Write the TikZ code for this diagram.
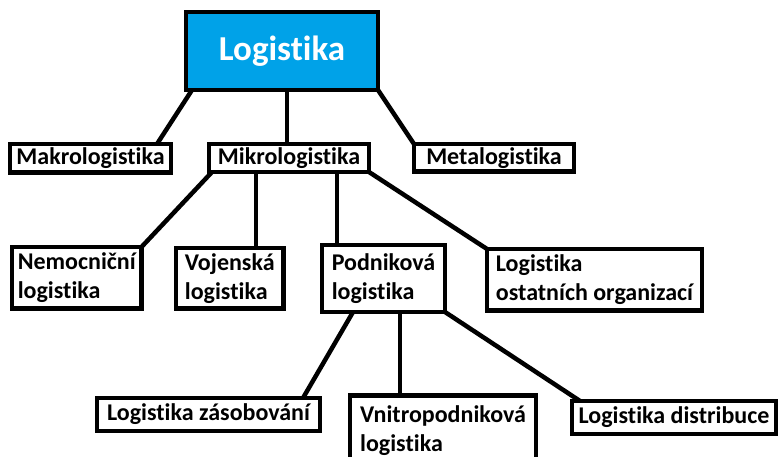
\documentclass[tikz,border=0pt]{standalone}
\usepackage{fontspec}
\setmainfont{Carlito}[Ligatures=NoCommon]
\usetikzlibrary{calc}
\definecolor{titleblue}{HTML}{00A2E8}
\begin{document}
\begin{tikzpicture}[x=1pt,y=-1pt,
  box/.style={draw=black, line width=4.5pt, fill=white, outer sep=0pt,
    inner xsep=4pt, inner ysep=0pt, anchor=north west, align=left,
    font=\bfseries\fontsize{24}{29}\selectfont},
  link/.style={line width=4.5pt}]
\fill[white] (0,0) rectangle (779,457);
\useasboundingbox (0,0) rectangle (779,457);

% root
\node[box, fill=titleblue, text=white, align=center, minimum width=192pt,
  minimum height=78pt, font=\bfseries\fontsize{35}{42}\selectfont] (log) at (186,12) {Logistika};

% second level
\node[box, minimum width=161pt, minimum height=28.5pt] (makro) at (10,144) {Makrologistika};
\node[box, minimum width=160pt, minimum height=28pt] (mikro) at (209,144) {Mikrologistika};
\node[box, minimum width=160pt, minimum height=27.5pt] (meta) at (414,144) {Metalogistika};

% third level
\node[box, minimum width=129.5pt, minimum height=61.5pt] (nemo) at (12,247) {Nemocniční\\logistika};
\node[box, minimum width=107.5pt, minimum height=60.5pt] (voj) at (176,248) {Vojenská\\logistika};
\node[box, minimum width=123pt, minimum height=67pt] (podnik) at (322,245) {Podniková\\logistika};
\node[box, minimum width=215pt, minimum height=61.5pt] (ostat) at (487,249) {Logistika\\ostatních organizací};

% fourth level
\node[box, minimum width=223pt, minimum height=33pt] (zas) at (97,398) {Logistika zásobování};
\node[box, minimum width=186pt, inner ysep=10pt, text depth=30pt] (vnitro) at (350,395.5) {Vnitropodniková\\logistika};
\node[box, minimum width=204pt, minimum height=33pt] (dist) at (572,401) {Logistika distribuce};

% connectors
\draw[link] ($(log.south west)+(6,0)$) -- ($(makro.north east)+(-14,0)$);
\coordinate (c1) at ($(log.south)+(5,0)$);
\draw[link] (c1) -- (c1 |- mikro.north);
\draw[link] (log.south east) -- (meta.north west);

\draw[link] ($(mikro.south west)+(3,0)$) -- (nemo.north east);
\coordinate (c2) at ($(mikro.south west)+(47,0)$);
\draw[link] (c2) -- (c2 |- voj.north);
\coordinate (c3) at ($(podnik.north west)+(15,0)$);
\draw[link] (c3) -- (c3 |- mikro.south);
\draw[link] (mikro.south east) -- (ostat.north west);

\draw[link] ($(podnik.south west)+(31,0)$) -- ($(zas.north east)+(-17,0)$);
\coordinate (c4) at ($(vnitro.north west)+(50,0)$);
\draw[link] (c4) -- (c4 |- podnik.south);
\draw[link] (podnik.south east) -- ($(dist.north west)+(8,0)$);
\end{tikzpicture}
\end{document}
